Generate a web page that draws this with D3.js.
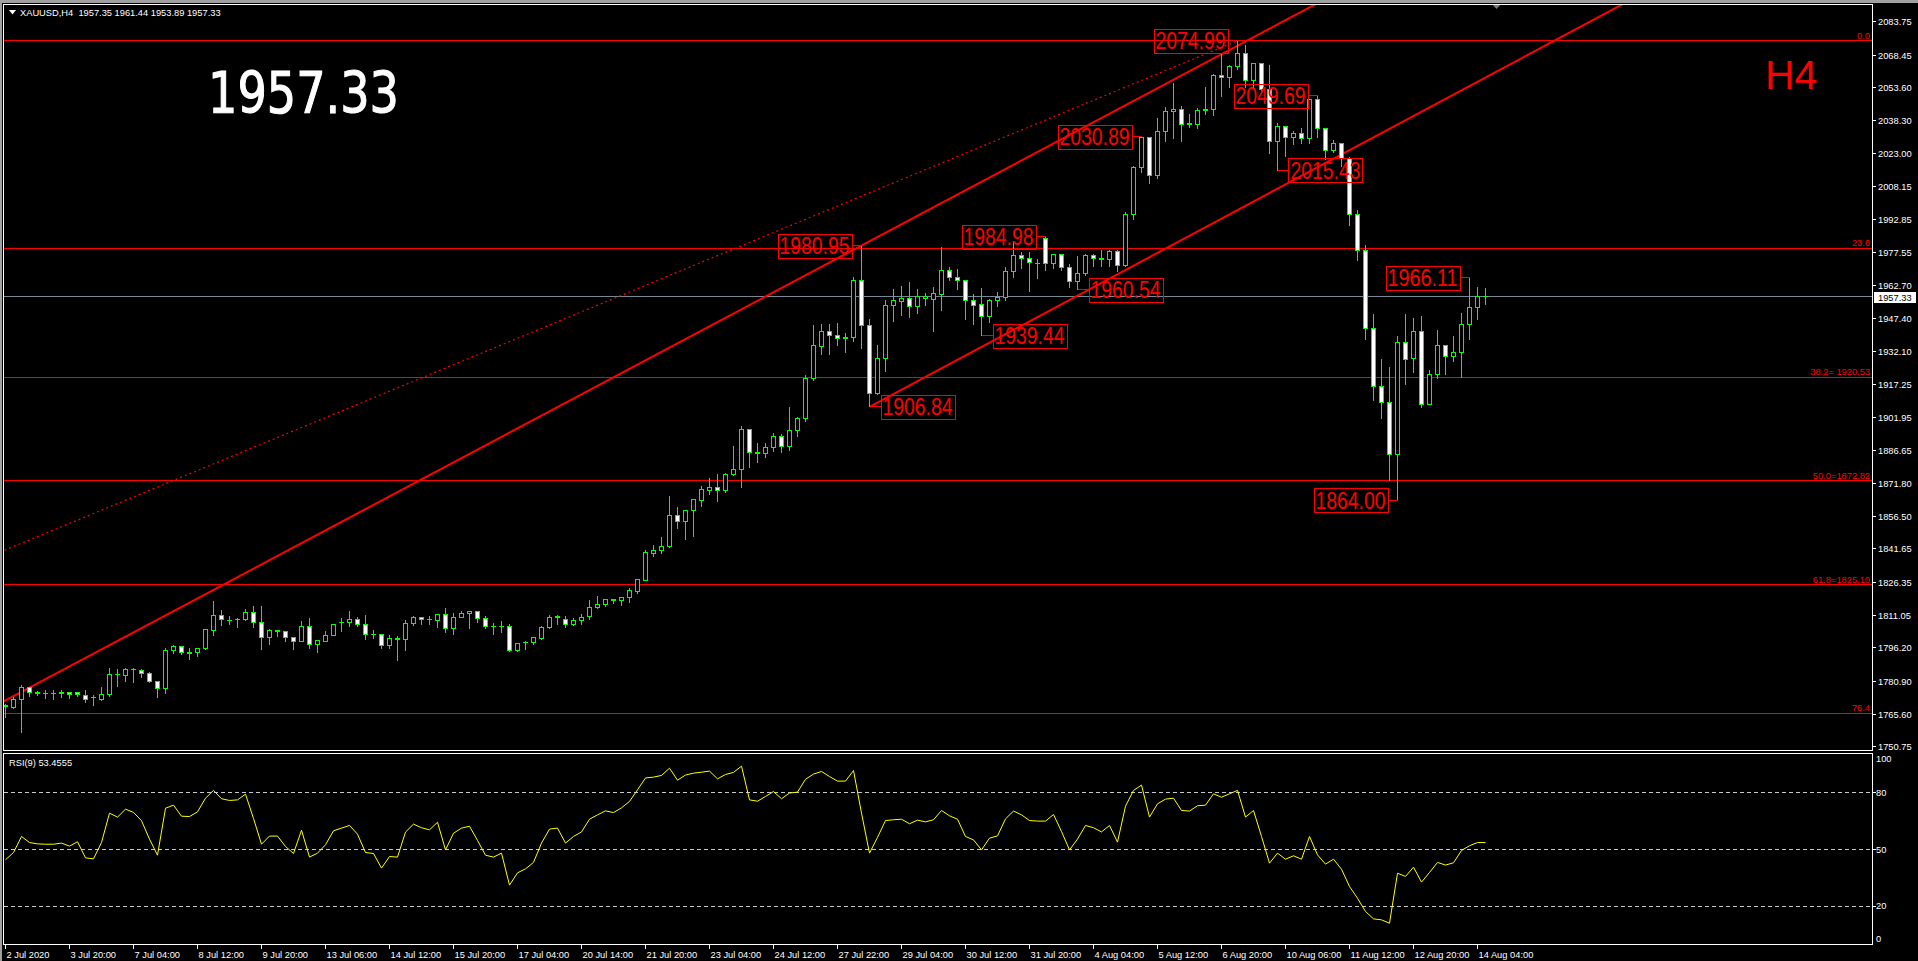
<!DOCTYPE html>
<html><head><meta charset="utf-8">
<script src="https://cdn.jsdelivr.net/npm/d3@7"></script>
<style>html,body{margin:0;padding:0;background:#000;overflow:hidden}svg{display:block}</style>
</head><body><svg id="c" width="1918" height="961"></svg>
<script>
// ---------- DATA ----------
const opens=[1769.5,1768.7,1772.5,1777.8,1775.8,1775.4,1775.3,1775.1,1775.7,1775.6,1774.4,1773.2,1772.4,1774.7,1784.0,1783.4,1786.2,1785.8,1784.5,1780.8,
1777.4,1794.9,1796.9,1793.9,1793.9,1795.8,1804.2,1811.1,1808.8,1809.2,1809.3,1812.5,1807.9,1801.0,1803.8,1803.7,1801.0,1799.2,1806.0,1797.8,
1799.2,1801.9,1807.6,1807.7,1809.3,1807.0,1802.4,1802.4,1797.2,1800.4,1799.9,1807.3,1810.2,1809.2,1808.7,1811.5,1805.0,1810.2,1811.9,1813.0,
1809.7,1806.0,1805.9,1805.9,1794.9,1798.5,1798.5,1800.4,1805.4,1810.3,1809.3,1806.8,1808.7,1810.5,1814.6,1816.0,1818.2,1817.8,1819.4,1822.0,
1827.3,1839.4,1840.8,1842.6,1857.0,1854.1,1859.2,1863.8,1868.4,1869.9,1868.4,1875.7,1878.1,1896.5,1885.8,1885.6,1888.0,1893.0,1888.5,1896.0,
1901.5,1919.9,1934.5,1941.5,1939.7,1938.6,1938.6,1965.1,1944.0,1913.0,1929.1,1953.3,1955.2,1956.4,1952.9,1956.4,1956.2,1958.5,1969.7,1966.3,
1964.9,1955.6,1954.0,1948.4,1955.9,1957.1,1969.2,1976.4,1975.2,1972.9,1984.1,1972.8,1976.7,1971.0,1964.2,1968.2,1976.4,1975.2,1974.3,1978.0,
1971.8,1995.1,2016.9,2030.5,2013.2,2033.4,2042.6,2043.5,2036.8,2036.6,2042.9,2043.5,2059.1,2057.9,2063.1,2069.2,2056.7,2064.6,2052.4,2028.5,
2035.8,2030.6,2032.5,2030.0,2047.8,2034.8,2024.7,2027.9,2020.8,1995.4,1978.6,1942.9,1916.1,1908.9,1885.0,1936.3,1929.1,1941.4,1908.0,1921.8,
1934.9,1930.2,1931.9,1944.7,1952.5,1957.35];
const highs=[1770.7,1774.0,1779.5,1778.5,1776.6,1776.8,1776.8,1776.8,1776.3,1775.8,1776.8,1774.5,1778.6,1787.0,1786.5,1787.0,1787.0,1786.7,1785.1,1780.8,
1796.4,1797.5,1797.3,1796.4,1796.0,1804.8,1818.1,1813.9,1810.8,1810.2,1814.0,1815.8,1815.4,1805.0,1804.4,1804.0,1801.3,1808.9,1810.3,1800.2,
1803.9,1807.2,1810.0,1813.5,1810.5,1811.7,1804.4,1802.6,1802.4,1801.9,1809.4,1810.8,1810.4,1811.2,1811.6,1814.9,1812.5,1813.1,1813.2,1813.1,
1810.9,1807.7,1808.9,1807.4,1798.5,1799.3,1801.3,1806.2,1811.7,1811.7,1810.8,1810.2,1812.0,1818.2,1820.3,1818.6,1819.0,1819.7,1823.9,1828.2,
1841.4,1843.4,1847.5,1865.9,1861.3,1859.8,1864.7,1870.5,1874.5,1876.3,1876.6,1888.9,1898.4,1896.7,1890.7,1890.5,1895.0,1894.5,1907.0,1902.5,
1921.5,1944.6,1945.2,1945.2,1945.8,1941.2,1966.9,1980.95,1947.5,1935.7,1956.2,1961.0,1962.4,1964.2,1961.1,1959.3,1962.0,1980.7,1971.5,1970.5,
1965.1,1959.0,1961.8,1956.5,1959.9,1971.4,1983.2,1978.4,1978.4,1975.2,1984.98,1977.4,1977.4,1972.5,1976.4,1977.4,1977.4,1978.9,1978.9,1978.9,
1996.6,2017.8,2030.89,2030.9,2039.8,2045.0,2056.0,2045.3,2041.6,2044.4,2054.2,2060.0,2069.2,2064.0,2074.99,2073.2,2064.8,2064.8,2063.9,2037.4,
2036.1,2033.7,2035.2,2047.8,2049.69,2035.2,2029.7,2027.9,2021.8,1997.6,1981.6,1949.8,1929.1,1925.6,1939.8,1949.5,1948.0,1948.9,1923.8,1942.4,
1935.7,1939.4,1950.4,1966.11,1962.0,1961.44];
const lows=[1764.2,1768.1,1757.2,1773.7,1774.2,1772.8,1772.5,1773.3,1772.8,1773.7,1771.0,1769.6,1771.9,1773.7,1778.6,1780.9,1780.2,1782.6,1780.2,1773.3,
1775.1,1793.6,1792.9,1791.0,1792.1,1795.6,1801.6,1806.3,1807.0,1805.4,1808.6,1805.4,1795.5,1797.8,1801.3,1799.0,1795.5,1799.0,1795.9,1793.9,
1799.0,1801.7,1803.6,1805.9,1805.9,1800.2,1800.5,1795.8,1795.8,1790.3,1794.9,1806.3,1807.1,1806.7,1805.3,1803.1,1802.2,1810.0,1805.0,1807.7,
1805.0,1802.5,1803.1,1794.4,1794.7,1795.5,1797.6,1800.2,1805.0,1807.1,1805.4,1806.5,1807.1,1809.3,1814.4,1815.1,1816.6,1815.4,1816.9,1821.2,
1827.1,1838.0,1839.3,1842.2,1850.9,1845.7,1847.2,1861.3,1866.8,1863.3,1867.4,1875.4,1869.9,1879.1,1881.5,1883.5,1886.5,1886.0,1887.0,1893.0,
1900.0,1918.9,1930.8,1930.8,1934.9,1931.7,1936.8,1933.7,1906.84,1912.3,1923.0,1946.0,1949.0,1947.8,1949.5,1953.6,1941.4,1951.3,1965.1,1960.8,
1947.0,1944.6,1939.44,1945.5,1952.9,1955.9,1966.2,1970.3,1959.7,1965.7,1969.4,1970.5,1969.7,1961.7,1960.54,1967.0,1971.5,1971.5,1971.5,1968.8,
1971.2,1992.7,2014.4,2009.5,2011.8,2028.6,2030.0,2028.6,2035.2,2034.6,2041.0,2040.7,2049.3,2053.6,2061.6,2053.6,2052.4,2051.6,2023.3,2015.43,
2021.8,2027.3,2027.6,2027.6,2030.6,2020.5,2023.9,2017.2,1990.2,1974.0,1937.9,1909.7,1901.4,1872.9,1864.00,1916.9,1922.5,1906.5,1907.8,1920.0,
1921.8,1927.6,1920.4,1937.9,1947.0,1953.89];
const closes=[1769.0,1772.5,1778.0,1775.8,1775.4,1775.3,1775.1,1775.6,1774.8,1774.9,1772.5,1773.4,1774.8,1784.0,1783.8,1786.3,1786.0,1784.3,1780.6,1777.4,
1795.0,1796.9,1793.9,1793.7,1795.9,1804.4,1811.1,1809.3,1808.7,1809.3,1812.5,1807.9,1801.0,1803.9,1803.9,1801.0,1799.2,1806.0,1797.8,1799.3,
1801.9,1807.0,1807.8,1809.3,1807.0,1802.4,1802.3,1797.2,1800.5,1800.2,1807.4,1810.2,1809.1,1809.0,1811.5,1805.0,1810.2,1812.0,1813.0,1809.6,
1805.9,1805.8,1806.0,1794.9,1798.2,1798.6,1800.7,1805.6,1810.2,1810.6,1806.8,1808.9,1810.2,1814.8,1816.2,1818.2,1818.1,1819.4,1822.3,1827.6,
1839.9,1840.9,1842.9,1857.0,1854.1,1859.2,1864.1,1868.7,1869.9,1868.4,1876.0,1878.1,1896.5,1885.8,1885.6,1888.0,1893.0,1888.5,1896.0,1901.5,
1919.9,1934.8,1941.5,1939.7,1938.3,1938.4,1965.1,1944.0,1913.0,1929.1,1953.6,1955.5,1956.4,1952.9,1957.5,1957.6,1958.7,1969.7,1966.3,1964.9,
1955.6,1953.5,1948.4,1955.9,1957.3,1969.2,1976.4,1975.2,1973.1,1972.7,1972.8,1976.7,1971.0,1964.2,1968.2,1976.4,1975.2,1974.3,1978.0,1971.8,
1995.1,2016.9,2030.5,2013.2,2033.4,2042.6,2043.5,2036.6,2036.6,2042.9,2043.5,2059.1,2057.9,2063.1,2069.2,2056.7,2064.6,2052.4,2028.5,2035.8,
2030.6,2032.5,2030.0,2047.8,2034.8,2024.7,2027.9,2020.8,1995.4,1978.6,1942.9,1916.1,1908.9,1885.0,1936.3,1928.7,1941.4,1908.0,1921.8,1934.9,
1930.2,1931.9,1944.7,1952.5,1957.4,1957.33];
const rsiValues=[44.4,48.2,56.7,53.5,52.8,52.6,52.6,53.2,51.6,53.9,45.4,44.9,53.5,69.0,66.9,71.1,69.4,65.0,55.3,46.8,
71.6,73.2,67.4,67.2,69.7,76.9,81.0,76.6,75.7,76.0,79.0,66.2,52.6,56.9,56.9,51.4,47.7,60.0,45.8,47.9,
52.3,59.7,61.1,62.5,57.9,48.2,47.7,40.0,46.1,45.8,59.0,63.2,61.3,60.2,64.2,49.6,58.4,61.1,62.1,54.6,
46.8,45.8,47.9,31.0,37.5,39.6,43.0,53.2,60.6,61.1,53.2,56.7,59.1,65.8,68.1,70.2,69.3,71.8,75.2,81.3,
87.6,88.0,88.9,92.7,86.4,89.1,90.1,90.6,91.2,87.1,89.4,90.5,93.8,76.0,75.3,77.8,80.4,76.6,79.6,80.1,
86.9,89.6,91.0,88.3,85.9,85.9,91.5,69.0,47.9,56.2,65.1,65.5,65.8,63.4,65.3,64.4,65.5,70.4,67.6,65.8,
56.7,54.9,49.6,55.8,57.0,66.0,70.1,68.1,65.1,64.8,64.8,68.3,59.3,49.6,55.3,62.5,61.3,59.1,62.5,53.7,
72.7,81.0,83.8,66.9,73.9,76.4,76.9,70.4,70.1,72.9,73.2,79.2,77.4,79.2,81.0,66.9,70.4,56.7,42.6,47.9,
44.7,46.5,44.7,56.7,47.0,42.1,44.7,39.4,30.3,24.1,17.1,13.2,12.7,10.9,37.3,35.6,40.5,32.6,37.7,43.0,
41.6,42.8,49.3,51.8,53.5,53.46];
const timeLabels=["2 Jul 2020","3 Jul 20:00","7 Jul 04:00","8 Jul 12:00","9 Jul 20:00","13 Jul 06:00","14 Jul 12:00","15 Jul 20:00",
"17 Jul 04:00","20 Jul 14:00","21 Jul 20:00","23 Jul 04:00","24 Jul 12:00","27 Jul 22:00","29 Jul 04:00","30 Jul 12:00",
"31 Jul 20:00","4 Aug 04:00","5 Aug 12:00","6 Aug 20:00","10 Aug 06:00","11 Aug 12:00","12 Aug 20:00","14 Aug 04:00"];
const priceTicks=[2083.75,2068.45,2053.60,2038.30,2023.00,2008.15,1992.85,1977.55,1962.70,1947.40,1932.10,1917.25,
1901.95,1886.65,1871.80,1856.50,1841.65,1826.35,1811.05,1796.20,1780.90,1765.60,1750.75];
const rsiTicks=[100,80,50,20,0];
const rsiLevels=[80,50,20];
const fibLevels=[2074.99,1979.58,1920.53,1872.82,1825.10,1766.09];
const fibLabels=["0.0","23.6","38.2= 1920.53","50.0=1872.82","61.8=1825.10","76.4"];
const swingBars=[107,130,108,122,134,142,154,164,159,183,174];
const swingPrices=[1980.95,1984.98,1906.84,1939.44,1960.54,2030.89,2074.99,2049.69,2015.43,1966.11,1864.00];
const swingSides=["left","left","right","right","right","left","left","left","right","left","left"];
const channelBars=[0,107], channelPrices=[1772.0,1980.95];
const channel2Bars=[108,180], channel2Prices=[1906.84,2048.3];
const dottedBars=[-3,154], dottedPrices=[1836.6,2074.99];
const lastPrice=1957.33;
const headerText="XAUUSD,H4  1957.35 1961.44 1953.89 1957.33";
const rsiText="RSI(9) 53.4555";

// ---------- LAYOUT ----------
const svg=d3.select('#c');
const FONT="'Liberation Sans', Arial, sans-serif";
const L=3.5,R=1872.5,MT=4.5,MB=750.5,RT=753.5,RB=944.5;
const x=d3.scaleLinear().domain([0,185]).range([5.5,1485.5]);
const y=d3.scaleLinear().domain([1750.75,2083.75]).range([746.7,21.7]);
const yr=d3.scaleLinear().domain([0,100]).range([943.9,754.4]);
const snap=v=>Math.round(v-0.5)+0.5;

svg.append('rect').attr('width',1918).attr('height',961).attr('fill','#000');
svg.append('rect').attr('width',1918).attr('height',3).attr('fill','#a0a0a0');
svg.append('rect').attr('width',2).attr('height',961).attr('fill','#a0a0a0');

const defs=svg.append('defs');
defs.append('clipPath').attr('id','cm').append('rect').attr('x',4).attr('y',5).attr('width',1868).attr('height',745);
defs.append('clipPath').attr('id','cr').append('rect').attr('x',4).attr('y',754).attr('width',1868).attr('height',190);

const main=svg.append('g').attr('clip-path','url(#cm)');
const ce=main.append('g').attr('shape-rendering','crispEdges');

// fib horizontal lines
ce.selectAll('line.fib').data(fibLevels).join('line')
  .attr('x1',L).attr('x2',R).attr('y1',d=>snap(y(d))).attr('y2',d=>snap(y(d)))
  .attr('stroke','#ff0000').attr('stroke-width',1);
// last price line
ce.append('line').attr('x1',L).attr('x2',R).attr('y1',snap(y(lastPrice))).attr('y2',snap(y(lastPrice)))
  .attr('stroke','#778899');

// trend lines
function ext(bars,prices,b){const s=(prices[1]-prices[0])/(bars[1]-bars[0]);return prices[0]+s*(b-bars[0]);}
main.append('line').attr('x1',x(channelBars[0]-2)).attr('y1',y(ext(channelBars,channelPrices,channelBars[0]-2)))
  .attr('x2',x(260)).attr('y2',y(ext(channelBars,channelPrices,260))).attr('stroke','#ff0000').attr('stroke-width',2);
main.append('line').attr('x1',x(channel2Bars[0])).attr('y1',y(channel2Prices[0]))
  .attr('x2',x(260)).attr('y2',y(ext(channel2Bars,channel2Prices,260))).attr('stroke','#ff0000').attr('stroke-width',2);
main.append('line').attr('x1',x(dottedBars[0])).attr('y1',y(dottedPrices[0]))
  .attr('x2',x(dottedBars[1])).attr('y2',y(dottedPrices[1])).attr('stroke','#ff0000').attr('stroke-width',1.2)
  .attr('stroke-dasharray','2,3');

// candles
const bars=d3.range(opens.length).map(i=>({i,o:opens[i],h:highs[i],l:lows[i],c:closes[i]}));
const cg=main.append('g').attr('shape-rendering','crispEdges');
cg.selectAll('line.wick').data(bars).join('line')
  .attr('x1',d=>snap(x(d.i))).attr('x2',d=>snap(x(d.i)))
  .attr('y1',d=>snap(y(d.h))).attr('y2',d=>snap(y(d.l))).attr('stroke','#00ff00');
bars.forEach(d=>{
  const cx=snap(x(d.i));
  const t=snap(y(Math.max(d.o,d.c))), b=snap(y(Math.min(d.o,d.c)));
  if(b-t<1){
    cg.append('line').attr('x1',cx-2.5).attr('x2',cx+2.5).attr('y1',t).attr('y2',t).attr('stroke','#00ff00');
  } else {
    cg.append('rect').attr('x',cx-2).attr('y',t).attr('width',4).attr('height',b-t)
      .attr('fill',d.c>=d.o?'#000':'#fff').attr('stroke','#00ff00');
  }
});

// fib labels
main.selectAll('text.fib').data(fibLevels).join('text')
  .attr('x',1870).attr('y',d=>y(d)-2).attr('text-anchor','end')
  .attr('font-family',FONT).attr('font-size','9.3px').attr('fill','#ff0000')
  .text((d,i)=>fibLabels[i]);

// swing labels
const sw=main.append('g');
swingBars.forEach((b,i)=>{
  const px0=x(b), py=y(swingPrices[i]);
  const bw=74,bh=24;
  const bx= swingSides[i]==='left' ? px0-10-bw : px0+11;
  const edge= swingSides[i]==='left' ? bx+bw : bx;
  sw.append('line').attr('x1',px0).attr('x2',edge).attr('y1',snap(py)).attr('y2',snap(py))
    .attr('stroke','#ff0000').attr('shape-rendering','crispEdges');
  sw.append('rect').attr('x',Math.round(bx)+0.5).attr('y',Math.round(py-bh/2)+0.5).attr('width',bw).attr('height',bh)
    .attr('fill','none').attr('stroke','#ff0000').attr('shape-rendering','crispEdges');
  sw.append('text').attr('x',bx+2).attr('y',py+8.5).attr('textLength',70).attr('lengthAdjust','spacingAndGlyphs')
    .attr('font-family',FONT).attr('font-size','24px').attr('fill','#ff0000').text(swingPrices[i].toFixed(2));
});

// big texts
main.append('text').attr('x',208).attr('y',113).attr('font-family',"'DejaVu Sans', Verdana, sans-serif")
  .attr('font-size','57px').attr('fill','#fff').attr('stroke','#fff').attr('stroke-width',1.1)
  .attr('textLength',191).attr('lengthAdjust','spacingAndGlyphs')
  .text(lastPrice.toFixed(2));
main.append('text').attr('x',1765).attr('y',89).attr('font-family',FONT)
  .attr('font-size','41px').attr('fill','#ff0000').text('H4');

// header
svg.append('path').attr('d','M9,10 L16,10 L12.5,14.5 Z').attr('fill','#fff');
svg.append('text').attr('x',20).attr('y',16).attr('font-family',FONT).attr('font-size','9.3px')
  .attr('fill','#fff').style('white-space','pre').text(headerText);
// chart-shift marker
svg.append('path').attr('d','M1492,4 L1501,4 L1496.5,9 Z').attr('fill','#808080');

// RSI
const rg=svg.append('g').attr('clip-path','url(#cr)');
rg.append('g').attr('shape-rendering','crispEdges').selectAll('line').data(rsiLevels).join('line')
  .attr('x1',L).attr('x2',R).attr('y1',d=>snap(yr(d))).attr('y2',d=>snap(yr(d)))
  .attr('stroke','#c8c8c8').attr('stroke-dasharray','4,3');
rg.append('path').datum(rsiValues).attr('fill','none').attr('stroke','#ffff00').attr('stroke-width',1)
  .attr('d',d3.line().x((d,i)=>x(i)).y(d=>yr(d)));
svg.append('text').attr('x',9).attr('y',766).attr('font-family',FONT).attr('font-size','9.3px')
  .attr('fill','#fff').text(rsiText);

// frames
const fr=svg.append('g').attr('shape-rendering','crispEdges').attr('fill','none').attr('stroke','#fff');
fr.append('rect').attr('x',L).attr('y',MT).attr('width',R-L).attr('height',MB-MT);
fr.append('rect').attr('x',L).attr('y',RT).attr('width',R-L).attr('height',RB-RT);

// price axis
const ax=svg.append('g');
priceTicks.forEach(p=>{
  const yy=snap(y(p));
  ax.append('line').attr('x1',R).attr('x2',R+3).attr('y1',yy).attr('y2',yy).attr('stroke','#fff').attr('shape-rendering','crispEdges');
  ax.append('text').attr('x',1878).attr('y',yy+3.4).attr('font-family',FONT).attr('font-size','9.3px').attr('fill','#fff').text(p.toFixed(2));
});
// last price box
const ly=y(lastPrice);
ax.append('rect').attr('x',1874).attr('y',Math.round(ly)-5).attr('width',42).attr('height',11).attr('fill','#fff');
ax.append('text').attr('x',1878).attr('y',Math.round(ly)+3.6).attr('font-family',FONT).attr('font-size','9.3px').attr('fill','#000').text(lastPrice.toFixed(2));

// rsi axis
rsiTicks.forEach(v=>{
  const yy=snap(yr(v));
  if(v>0&&v<100) ax.append('line').attr('x1',R).attr('x2',R+3).attr('y1',yy).attr('y2',yy).attr('stroke','#fff').attr('shape-rendering','crispEdges');
  const ty=Math.max(759,Math.min(939,yr(v)));
  ax.append('text').attr('x',1876).attr('y',ty+3.4).attr('font-family',FONT).attr('font-size','9.3px').attr('fill','#fff').text(v);
});

// time axis
timeLabels.forEach((t,i)=>{
  const xx=snap(x(i*8));
  ax.append('line').attr('x1',xx).attr('x2',xx).attr('y1',RB).attr('y2',RB+4).attr('stroke','#fff').attr('shape-rendering','crispEdges');
  ax.append('text').attr('x',xx+1).attr('y',958).attr('font-family',FONT).attr('font-size','9.3px').attr('fill','#fff').text(t);
});
</script>
</body></html>
